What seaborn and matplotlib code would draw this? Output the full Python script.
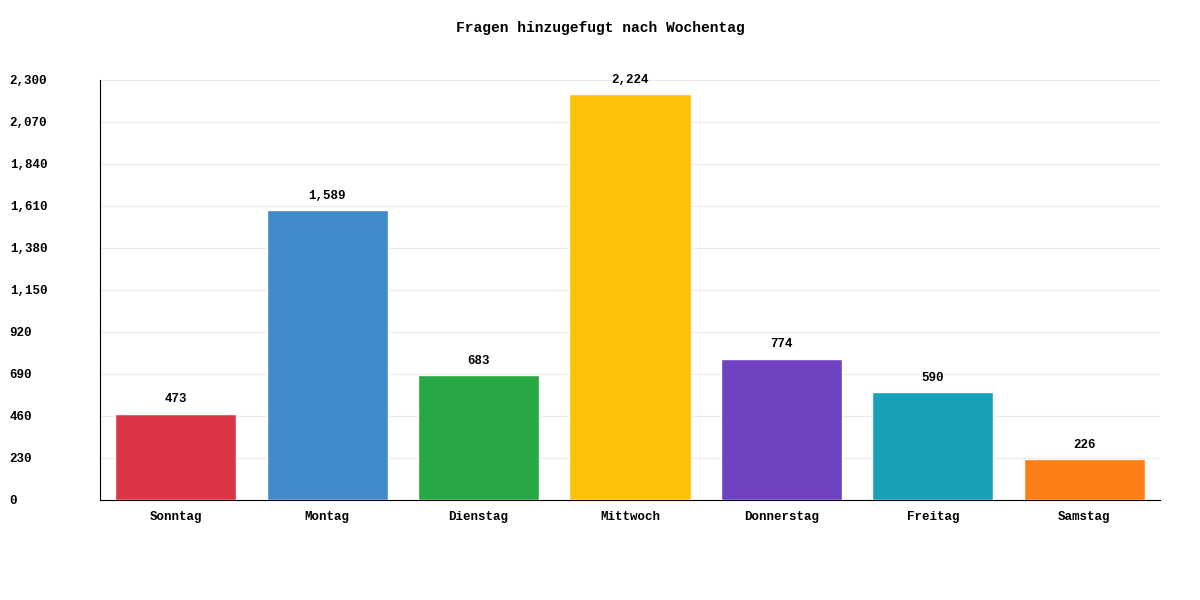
import matplotlib
matplotlib.use('Agg')
import matplotlib.pyplot as plt
import seaborn as sns
import pandas as pd

days = ['Sonntag', 'Montag', 'Dienstag', 'Mittwoch', 'Donnerstag', 'Freitag', 'Samstag']
counts = [473, 1589, 683, 2224, 774, 590, 226]
colors = ['#dc3545', '#428bca', '#28a745', '#ffc107', '#6f42c1', '#17a2b8', '#fd7e14']
yticks = [0, 230, 460, 690, 920, 1150, 1380, 1610, 1840, 2070, 2300]

sns.set_style('white')
plt.rcParams['font.family'] = ['Liberation Mono', 'DejaVu Sans Mono']
plt.rcParams['font.size'] = 9
plt.rcParams['text.color'] = 'black'
plt.rcParams['xtick.color'] = 'black'
plt.rcParams['ytick.color'] = 'black'

df = pd.DataFrame({'Tag': days, 'Anzahl': counts})

fig = plt.figure(figsize=(12, 6), dpi=100)
ax = fig.add_axes([100/1200, 100/600, 1060/1200, 420/600])
sns.barplot(data=df, x='Tag', y='Anzahl', hue='Tag', palette=colors, legend=False,
            width=0.8, saturation=1, ax=ax, zorder=3)

ax.set_ylim(0, 2300)
ax.set_xlim(-0.5, 6.5)
ax.set_yticks(yticks)
ax.set_yticklabels([f'{v:,}' for v in yticks], fontweight='bold', ha='left')
ax.tick_params(axis='y', pad=65, length=0)
ax.tick_params(axis='x', length=0, pad=8)
for lbl in ax.get_xticklabels():
    lbl.set_fontweight('bold')
ax.grid(axis='y', color='#ebebeb', linewidth=0.8, zorder=0)
ax.set_xlabel('')
ax.set_ylabel('')
for s in ['top', 'right']:
    ax.spines[s].set_visible(False)
for s in ['left', 'bottom']:
    ax.spines[s].set_color('black')
    ax.spines[s].set_linewidth(0.8)

for i, v in enumerate(counts):
    ax.text(i, v + 45, f'{v:,}', ha='center', va='bottom', fontweight='bold', fontsize=9)

fig.text(0.5, 1 - 28/600, 'Fragen hinzugefugt nach Wochentag', ha='center', va='center',
         fontweight='bold', fontsize=10.5)

fig.savefig('out.png', dpi=100)
